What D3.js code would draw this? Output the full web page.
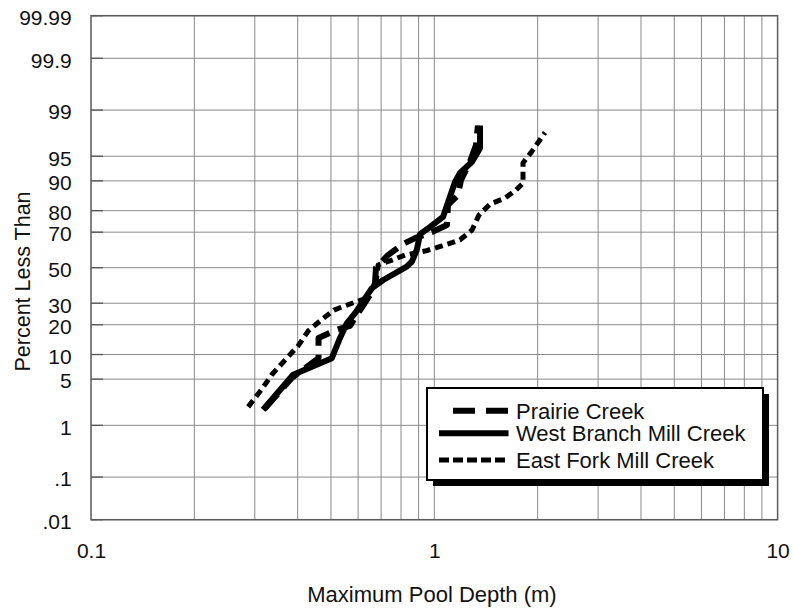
<!DOCTYPE html>
<html lang="en">
<head>
<meta charset="utf-8">
<title>Maximum Pool Depth probability plot</title>
<script src="https://d3js.org/d3.v7.min.js"></script>
<style>
  body { margin: 0; background: #fff; }
  svg { display: block; font-family: "Liberation Sans", Arial, sans-serif; }
</style>
</head>
<body>
<script>
// data (depth in m, percent less than)
const prairieDepth = [0.32, 0.385, 0.42, 0.46, 0.46, 0.517, 0.568, 0.608, 0.658, 0.672, 0.676, 0.733, 0.811, 0.879, 0.985, 1.089, 1.096, 1.172, 1.196, 1.27, 1.323, 1.34];
const prairiePct   = [1.85, 5.2, 6.9, 9.1, 15.0, 17.9, 19.5, 26.6, 35.9, 41.1, 49.8, 57.4, 63.7, 66.9, 70.1, 73.6, 82.3, 85.8, 90.2, 94.1, 96.5, 98.2];

const westDepth = [0.317, 0.388, 0.503, 0.531, 0.556, 0.59, 0.657, 0.71, 0.831, 0.86, 0.889, 0.909, 0.972, 1.06, 1.149, 1.188, 1.288, 1.359, 1.359];
const westPct   = [1.8, 5.7, 9.1, 14.9, 20.6, 25.5, 38, 42.8, 50.6, 53.5, 60.3, 69, 72.6, 77.3, 89.7, 91.9, 94.1, 96.1, 98.2];

const eastDepth = [0.287, 0.315, 0.337, 0.368, 0.401, 0.429, 0.468, 0.51, 0.568, 0.624, 0.676, 0.686, 0.753, 0.822, 0.94, 1.053, 1.188, 1.288, 1.35, 1.453, 1.607, 1.73, 1.813, 1.813, 1.925, 2.101];
const eastPct   = [2.0, 3.7, 5.8, 8.7, 12.4, 17.5, 22.0, 26.6, 29.6, 32.2, 40.5, 51.6, 54.5, 57.4, 59.7, 62.6, 65.9, 71.1, 78.2, 82.6, 84.8, 87.4, 89.4, 93.9, 95.7, 97.7];

const yTickValues = [0.01, 0.1, 1, 5, 10, 20, 30, 50, 70, 80, 90, 95, 99, 99.9, 99.99];
const yTickLabels = [".01", ".1", "1", "5", "10", "20", "30", "50", "70", "80", "90", "95", "99", "99.9", "99.99"];
const xTickValues = [0.1, 1, 10];
const xTickLabels = ["0.1", "1", "10"];
const xGridValues = [0.2, 0.3, 0.4, 0.5, 0.6, 0.7, 0.8, 0.9, 1, 2, 3, 4, 5, 6, 7, 8, 9];

const legendNames = ["Prairie Creek", "West Branch Mill Creek", "East Fork Mill Creek"];

// inverse normal cdf (Acklam) for the probability axis
function probit(p) {
  const a = [-39.69683028665376, 220.9460984245205, -275.9285104469687, 138.3577518672690, -30.66479806614716, 2.506628277459239];
  const b = [-54.47609879822406, 161.5858368580409, -155.6989798598866, 66.80131188771972, -13.28068155288572];
  const c = [-0.007784894002430293, -0.3223964580411365, -2.400758277161838, -2.549732539343734, 4.374664141464968, 2.938163982698783];
  const d = [0.007784695709041462, 0.3224671290700398, 2.445134137142996, 3.754408661907416];
  const plow = 0.02425;
  let q, r;
  if (p < plow) {
    q = Math.sqrt(-2 * Math.log(p));
    return (((((c[0]*q+c[1])*q+c[2])*q+c[3])*q+c[4])*q+c[5]) / ((((d[0]*q+d[1])*q+d[2])*q+d[3])*q+1);
  } else if (p <= 1 - plow) {
    q = p - 0.5; r = q * q;
    return (((((a[0]*r+a[1])*r+a[2])*r+a[3])*r+a[4])*r+a[5])*q / (((((b[0]*r+b[1])*r+b[2])*r+b[3])*r+b[4])*r+1);
  }
  q = Math.sqrt(-2 * Math.log(1 - p));
  return -(((((c[0]*q+c[1])*q+c[2])*q+c[3])*q+c[4])*q+c[5]) / ((((d[0]*q+d[1])*q+d[2])*q+d[3])*q+1);
}
const z = pct => probit(pct / 100);

const W = 793, H = 608;
const plotLeft = 91, plotRight = 777.6, plotTop = 15.7, plotBottom = 519.7;

const svg = d3.select("body").append("svg").attr("width", W).attr("height", H);

const xScale = d3.scaleLog().domain([0.1, 10]).range([plotLeft, plotRight]);
const yScale = d3.scaleLinear().domain([z(0.01), z(99.99)]).range([plotBottom, plotTop]);

// grid
svg.append("g").selectAll("line").data(xGridValues).join("line")
  .attr("x1", d => xScale(d)).attr("x2", d => xScale(d))
  .attr("y1", plotTop).attr("y2", plotBottom)
  .attr("stroke", "#8a8a8a").attr("stroke-width", 1);
svg.append("g").selectAll("line").data(yTickValues).join("line")
  .attr("x1", plotLeft).attr("x2", plotRight)
  .attr("y1", d => yScale(z(d))).attr("y2", d => yScale(z(d)))
  .attr("stroke", "#8a8a8a").attr("stroke-width", 1);

// short inner ticks on the left side
svg.append("g").selectAll("line").data(yTickValues).join("line")
  .attr("x1", plotLeft).attr("x2", plotLeft + 12)
  .attr("y1", d => yScale(z(d))).attr("y2", d => yScale(z(d)))
  .attr("stroke", "#555").attr("stroke-width", 1.3);

// frame
svg.append("rect").attr("x", plotLeft).attr("y", plotTop)
  .attr("width", plotRight - plotLeft).attr("height", plotBottom - plotTop)
  .attr("fill", "none").attr("stroke", "#5a5a5a").attr("stroke-width", 1.5);

// axes
const xAxis = d3.axisBottom(xScale).tickValues(xTickValues)
  .tickFormat((d, i) => xTickLabels[i]).tickSize(0).tickPadding(23.5);
const gx = svg.append("g").attr("transform", "translate(0," + plotBottom + ")").call(xAxis);
gx.select(".domain").remove();
gx.selectAll("text").attr("font-size", 21).attr("fill", "#111").attr("font-family", "Liberation Sans, Arial, sans-serif");

const yAxis = d3.axisLeft(yScale).tickValues(yTickValues.map(z))
  .tickFormat((d, i) => yTickLabels[i]).tickSize(0).tickPadding(19.3);
const gy = svg.append("g").attr("transform", "translate(" + plotLeft + ",0)").call(yAxis);
gy.select(".domain").remove();
gy.selectAll("text").attr("font-size", 21).attr("dy", "0.42em").attr("fill", "#111").attr("font-family", "Liberation Sans, Arial, sans-serif");

// axis titles
svg.append("text").attr("x", 432).attr("y", 601.5).attr("text-anchor", "middle")
  .attr("font-size", 22).attr("fill", "#111").text("Maximum Pool Depth (m)");
svg.append("text").attr("transform", "translate(30,281.5) rotate(-90)").attr("text-anchor", "middle")
  .attr("font-size", 21.5).attr("fill", "#111").text("Percent Less Than");

// series
const line = d3.line().x(d => xScale(d[0])).y(d => yScale(z(d[1])));
const series = [
  { depth: prairieDepth, pct: prairiePct, width: 6, dash: "20,9" },
  { depth: westDepth, pct: westPct, width: 6, dash: null },
  { depth: eastDepth, pct: eastPct, width: 5, dash: "8,5" }
];
series.forEach(s => {
  svg.append("path")
    .datum(s.depth.map((v, i) => [v, s.pct[i]]))
    .attr("d", line)
    .attr("fill", "none")
    .attr("stroke", "#000")
    .attr("stroke-width", s.width)
    .attr("stroke-dasharray", s.dash)
    .attr("stroke-linejoin", "round");
});

// legend
const lg = svg.append("g");
lg.append("rect").attr("x", 433).attr("y", 394).attr("width", 336).attr("height", 92).attr("fill", "#000");
lg.append("rect").attr("x", 427).attr("y", 388).attr("width", 336).attr("height", 92)
  .attr("fill", "#fff").attr("stroke", "#000").attr("stroke-width", 2);

const legendY = [410.7, 433.3, 460];
const legendX1 = [453, 439, 439];
lg.selectAll("line").data(series).join("line")
  .attr("x1", (d, i) => legendX1[i]).attr("x2", 508.5)
  .attr("y1", (d, i) => legendY[i]).attr("y2", (d, i) => legendY[i])
  .attr("stroke", "#000")
  .attr("stroke-width", (d, i) => i === 2 ? 5 : 6)
  .attr("stroke-dasharray", (d, i) => i === 0 ? "22,11" : (i === 2 ? "10,4" : null));
lg.selectAll("text").data(legendNames).join("text")
  .attr("x", 516).attr("y", (d, i) => legendY[i] + 7.8)
  .attr("font-size", 22).attr("fill", "#111").text(d => d);
</script>
</body>
</html>
